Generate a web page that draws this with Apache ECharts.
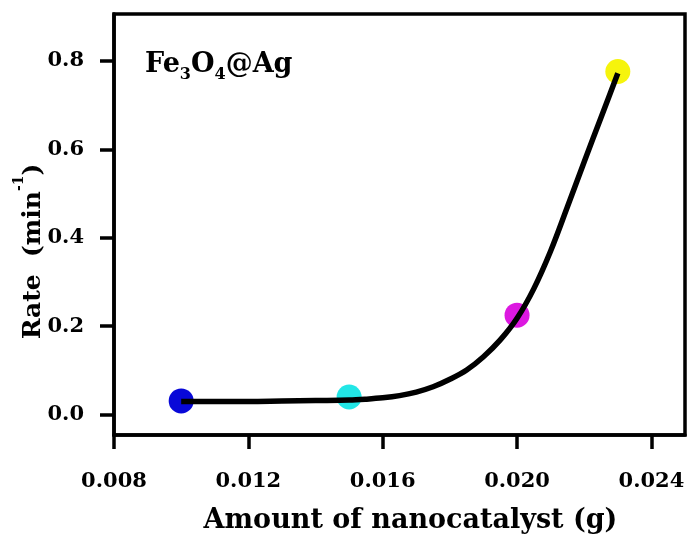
<!DOCTYPE html>
<html><head><meta charset="utf-8">
<script src="https://cdn.jsdelivr.net/npm/echarts@6/dist/echarts.min.js"></script>
<style>html,body{margin:0;padding:0;background:#fff}#c{width:692px;height:537px}</style>
</head><body><div id="c"></div>
<script>
// measured points
const catalystAmount = [0.010, 0.015, 0.020, 0.023];
const rate = [0.031, 0.040, 0.225, 0.776];
const pointColors = ['#0808d8', '#22e6e6', '#dc18e0', '#f6f40c'];
// fitted curve
const curveX = [0.0100, 0.0110, 0.0120, 0.0130, 0.0140, 0.0150, 0.0155, 0.0160, 0.0165, 0.0170, 0.0175, 0.0180, 0.0185, 0.0190, 0.0195, 0.0200, 0.0205, 0.0210, 0.0215, 0.0220, 0.0225, 0.0230];
const curveY = [0.030, 0.030, 0.030, 0.031, 0.032, 0.033, 0.035, 0.038, 0.043, 0.051, 0.063, 0.080, 0.101, 0.131, 0.169, 0.218, 0.285, 0.370, 0.470, 0.572, 0.672, 0.772];
const xTicks = [0.008, 0.012, 0.016, 0.020, 0.024];
const yTicks = [0.0, 0.2, 0.4, 0.6, 0.8];

const FONT = 'DejaVu Serif';
const chart = echarts.init(document.getElementById('c'));
chart.setOption({
  animation: false,
  backgroundColor: '#fff',
  grid: { left: 114, right: 7, top: 14, bottom: 102, outerBoundsMode: 'none', containLabel: false, show: true, borderColor: '#000', borderWidth: 3.5, backgroundColor: 'transparent' },
  title: {
    text: '{b|Fe}{s|3}{b|O}{s|4}{b|@Ag}',
    left: 140, top: 42,
    textStyle: {
      rich: {
        b: { fontFamily: FONT, fontWeight: 'bold', fontSize: 27, color: '#000', lineHeight: 36, verticalAlign: 'middle' },
        s: { fontFamily: FONT, fontWeight: 'bold', fontSize: 16, color: '#000', lineHeight: 36, verticalAlign: 'bottom', padding: [20, 0, 0, 0] }
      }
    }
  },
  xAxis: {
    type: 'value', min: 0.008, max: 0.025,
    name: 'Amount of nanocatalyst (g)', nameLocation: 'middle', nameGap: 72, nameMoveOverlap: false,
    nameTextStyle: { fontFamily: FONT, fontWeight: 'bold', fontSize: 27, color: '#000', padding: [0, 0, 0, 22] },
    axisLine: { show: true, onZero: false, lineStyle: { color: '#000', width: 3.5 } },
    axisTick: { show: true, length: 14, lineStyle: { color: '#000', width: 3.5 }, customValues: xTicks },
    axisLabel: { fontFamily: FONT, fontWeight: 'bold', fontSize: 21, color: '#000', margin: 36, customValues: xTicks, formatter: v => v.toFixed(3) },
    splitLine: { show: false }
  },
  yAxis: {
    type: 'value', min: -0.046, max: 0.906,
    name: '{t|Rate  (min}{sup|-1}{t|)}', nameLocation: 'middle', nameGap: 68, nameRotate: 90, nameMoveOverlap: false,
    nameTextStyle: {
      padding: [0, 54, 0, 0],
      rich: {
        t: { fontFamily: FONT, fontWeight: 'bold', fontSize: 25, color: '#000', lineHeight: 34, verticalAlign: 'bottom' },
        sup: { fontFamily: FONT, fontWeight: 'bold', fontSize: 14, color: '#000', lineHeight: 34, verticalAlign: 'top' }
      }
    },
    axisLine: { show: true, onZero: false, lineStyle: { color: '#000', width: 3.5 } },
    axisTick: { show: true, length: 14, lineStyle: { color: '#000', width: 3.5 }, customValues: yTicks },
    axisLabel: { fontFamily: FONT, fontWeight: 'bold', fontSize: 21, color: '#000', margin: 30, customValues: yTicks, formatter: v => v.toFixed(1) },
    splitLine: { show: false }
  },
  series: [
    {
      type: 'scatter', z: 2, symbol: 'circle', symbolSize: 25,
      data: catalystAmount.map((x, i) => ({ value: [x, rate[i]], itemStyle: { color: pointColors[i], opacity: 1 } }))
    },
    {
      type: 'line', z: 3, smooth: 0.35, showSymbol: false, symbol: 'none',
      lineStyle: { color: '#000', width: 5.5 },
      data: curveX.map((x, i) => [x, curveY[i]])
    }
  ]
});
</script></body></html>
